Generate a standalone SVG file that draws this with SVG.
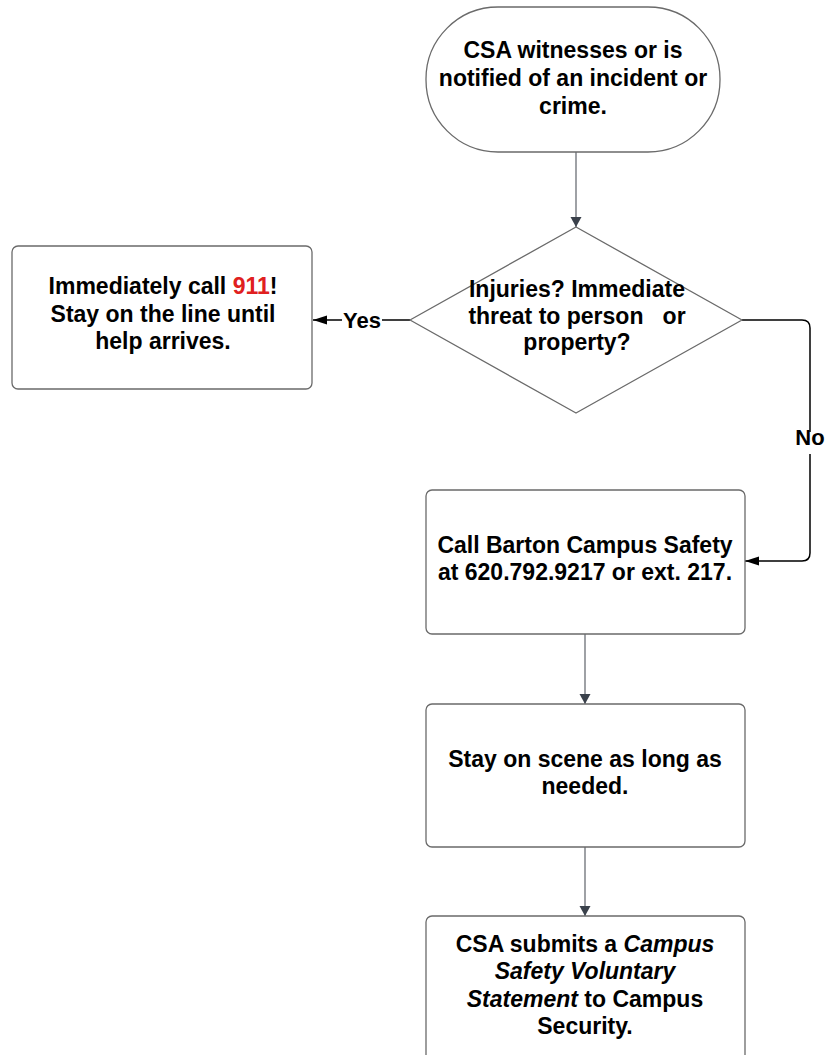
<svg xmlns="http://www.w3.org/2000/svg" width="826" height="1055" viewBox="0 0 826 1055">
<defs>
<style>
.node{fill:#fff;stroke:#6a6a6a;stroke-width:1.3}
.t{font-family:"Liberation Sans",Arial,sans-serif;font-weight:bold;font-size:23px;fill:#000;text-anchor:middle}
.lbl{font-family:"Liberation Sans",Arial,sans-serif;font-weight:bold;font-size:22px;fill:#000;text-anchor:middle}
.gray{fill:none;stroke:#6b6f76;stroke-width:1.3}
.blk{fill:none;stroke:#000;stroke-width:1.5}
</style>
<marker id="ag" viewBox="0 0 10 14" refX="10" refY="7" markerWidth="10" markerHeight="14" markerUnits="userSpaceOnUse" orient="auto">
<path d="M0,1.5 L10,7 L0,12.5 Z" fill="#3a414b"/>
</marker>
<marker id="ab" viewBox="0 0 14 10" refX="14" refY="5" markerWidth="14" markerHeight="10" markerUnits="userSpaceOnUse" orient="auto">
<path d="M0,0.5 L14,5 L0,9.5 Z" fill="#000"/>
</marker>
</defs>
<rect width="826" height="1055" fill="#fff"/>
<g id="connectors">
<path class="gray" d="M576,152 L576,227" marker-end="url(#ag)"/>
<path class="blk" d="M410,320 L382,320 M342,320 L313,320" marker-end="url(#ab)"/>
<path class="blk" d="M742,320 L802,320 Q810,320 810,328 L810,432 M810,454 L810,553 Q810,561 802,561 L745,561" marker-end="url(#ab)"/>
<path class="gray" d="M585,634 L585,704" marker-end="url(#ag)"/>
<path class="gray" d="M585,847 L585,916" marker-end="url(#ag)"/>
<text class="lbl" x="362" y="328">Yes</text>
<text class="lbl" x="810" y="445">No</text>
</g>
<g id="start">
<rect class="node" x="426" y="7" width="294" height="145" rx="72" ry="72"/>
<text class="t" x="573" y="58">CSA witnesses or is</text>
<text class="t" x="573" y="86">notified of an incident or</text>
<text class="t" x="573" y="114">crime.</text>
</g>
<g id="decision">
<polygon class="node" points="576,227 742,320 576,413 410,320" stroke-linejoin="round"/>
<text class="t" x="577" y="297">Injuries? Immediate</text>
<text class="t" x="577" y="324" style="white-space:pre" xml:space="preserve">threat to person   or</text>
<text class="t" x="577" y="350">property?</text>
</g>
<g id="call911">
<rect class="node" x="12" y="246" width="300" height="143" rx="6" ry="6"/>
<text class="t" x="163" y="294">Immediately call <tspan fill="#e02020">911</tspan>!</text>
<text class="t" x="163" y="322">Stay on the line until</text>
<text class="t" x="163" y="349">help arrives.</text>
</g>
<g id="callSafety">
<rect class="node" x="426" y="490" width="319" height="144" rx="6" ry="6"/>
<text class="t" x="585" y="553">Call Barton Campus Safety</text>
<text class="t" x="585" y="580">at 620.792.9217 or ext. 217.</text>
</g>
<g id="stay">
<rect class="node" x="426" y="704" width="319" height="143" rx="6" ry="6"/>
<text class="t" x="585" y="767">Stay on scene as long as</text>
<text class="t" x="585" y="794">needed.</text>
</g>
<g id="submit">
<rect class="node" x="426" y="916" width="319" height="160" rx="6" ry="6"/>
<text class="t" x="585" y="952">CSA submits a <tspan font-style="italic">Campus</tspan></text>
<text class="t" x="585" y="979" font-style="italic">Safety Voluntary</text>
<text class="t" x="585" y="1007"><tspan font-style="italic">Statement</tspan> to Campus</text>
<text class="t" x="585" y="1034">Security.</text>
</g>
</svg>
